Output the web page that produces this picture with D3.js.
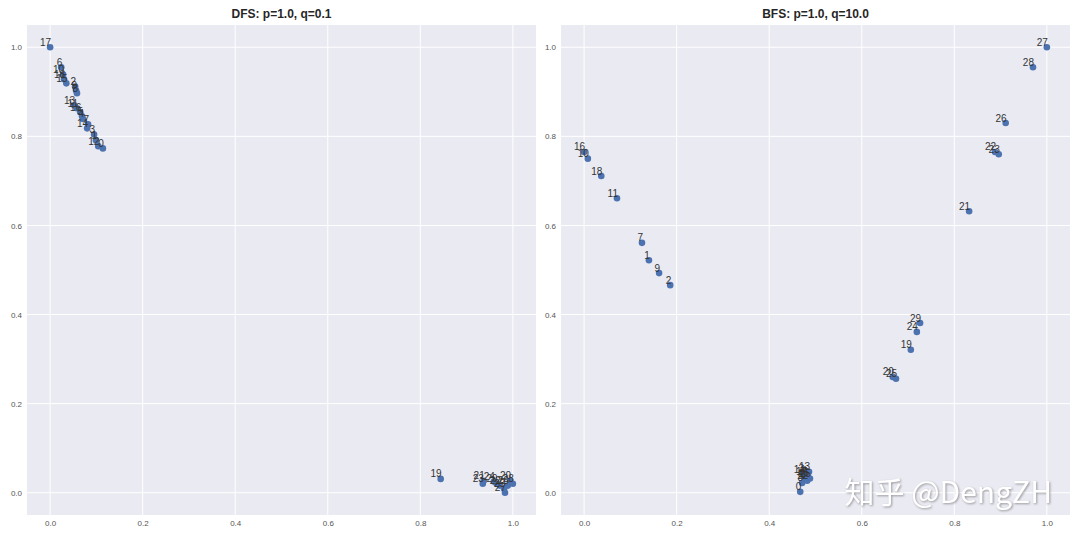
<!DOCTYPE html>
<html>
<head>
<meta charset="utf-8">
<script src="https://cdn.jsdelivr.net/npm/d3@7"></script>
<style>
  body { margin: 0; background: #fff; }
  svg { display: block; }
  text { font-family: "Liberation Sans", Arial, sans-serif; }
</style>
</head>
<body>
<div id="chart"></div>
<script>
var width = 1080;
var height = 539;

// node ids and embedding coords (x, y) for each run
var nodes = d3.range(30);
var dfsX = [0.114, 0.099, 0.054, 0.095, 0.071, 0.069, 0.024, 0.082, 0.058, 0.056,
            0.028, 0.058, 0.104, 0.052, 0.080, 0.035, 0.065, 0.000, 0.030, 0.844,
            0.994, 0.937, 0.972, 0.935, 0.959, 0.981, 0.989, 0.983, 1.000, 0.965];
var dfsY = [0.773, 0.791, 0.912, 0.804, 0.839, 0.845, 0.955, 0.827, 0.897, 0.903,
            0.939, 0.863, 0.778, 0.870, 0.818, 0.919, 0.854, 1.000, 0.928, 0.031,
            0.027, 0.027, 0.016, 0.020, 0.025, 0.009, 0.016, 0.000, 0.020, 0.020];
var bfsX = [0.467, 0.140, 0.186, 0.473, 0.479, 0.484, 0.477, 0.125, 0.471, 0.162,
            0.008, 0.071, 0.482, 0.486, 0.475, 0.488, 0.000, 0.480, 0.037, 0.706,
            0.667, 0.832, 0.888, 0.896, 0.719, 0.674, 0.911, 1.000, 0.970, 0.726];
var bfsY = [0.002, 0.522, 0.466, 0.043, 0.038, 0.034, 0.029, 0.561, 0.022, 0.493,
            0.750, 0.661, 0.027, 0.047, 0.040, 0.032, 0.765, 0.036, 0.711, 0.321,
            0.260, 0.632, 0.765, 0.760, 0.361, 0.256, 0.830, 1.000, 0.955, 0.381];
var titles = ["DFS: p=1.0, q=0.1", "BFS: p=1.0, q=10.0"];
var tickVals = [0, 0.2, 0.4, 0.6, 0.8, 1.0];

var svg = d3.select("#chart").append("svg")
  .attr("width", width).attr("height", height);

var panels = [
  { left: 27, right: 536, xs: dfsX, ys: dfsY, title: titles[0] },
  { left: 561, right: 1070, xs: bfsX, ys: bfsY, title: titles[1] }
];
var plotTop = 25, plotBottom = 515;

panels.forEach(function(p){
  var x = d3.scaleLinear().domain([-0.05, 1.05]).range([p.left, p.right]);
  var y = d3.scaleLinear().domain([-0.05, 1.05]).range([plotBottom, plotTop]);
  var g = svg.append("g");

  g.append("rect")
    .attr("x", p.left).attr("y", plotTop)
    .attr("width", p.right - p.left).attr("height", plotBottom - plotTop)
    .attr("fill", "#eaeaf2");

  // grid
  g.selectAll(".vgrid").data(tickVals).enter().append("line")
    .attr("x1", function(d){ return x(d); }).attr("x2", function(d){ return x(d); })
    .attr("y1", plotTop).attr("y2", plotBottom)
    .attr("stroke", "#fff").attr("stroke-width", 1);
  g.selectAll(".hgrid").data(tickVals).enter().append("line")
    .attr("y1", function(d){ return y(d); }).attr("y2", function(d){ return y(d); })
    .attr("x1", p.left).attr("x2", p.right)
    .attr("stroke", "#fff").attr("stroke-width", 1);

  // axes, no spines
  var xa = g.append("g").attr("transform", "translate(0," + plotBottom + ")")
    .call(d3.axisBottom(x).tickValues(tickVals).tickFormat(d3.format(".1f")).tickSize(0).tickPadding(5));
  var ya = g.append("g").attr("transform", "translate(" + p.left + ",0)")
    .call(d3.axisLeft(y).tickValues(tickVals).tickFormat(d3.format(".1f")).tickSize(0).tickPadding(5));
  [xa, ya].forEach(function(a){
    a.select(".domain").remove();
    a.selectAll("text").attr("fill", "#555").style("font-size", "8px")
      .style("font-family", "'Liberation Sans', Arial, sans-serif");
  });

  g.append("text")
    .attr("x", (p.left + p.right) / 2).attr("y", 18)
    .attr("text-anchor", "middle")
    .attr("font-weight", "bold").attr("font-size", "12px")
    .attr("fill", "#262626")
    .text(p.title);

  g.selectAll("circle").data(nodes).enter().append("circle")
    .attr("cx", function(d){ return x(p.xs[d]); })
    .attr("cy", function(d){ return y(p.ys[d]); })
    .attr("r", 3.3)
    .attr("fill", "#4c72b0");

  g.selectAll(".lbl").data(nodes).enter().append("text")
    .attr("x", function(d){ return x(p.xs[d]) + 1; })
    .attr("y", function(d){ return y(p.ys[d]) - 1.5; })
    .attr("text-anchor", "end")
    .attr("font-size", "10px")
    .attr("fill", "#333")
    .text(function(d){ return d; });
});

// watermark
svg.append("text")
  .attr("x", 1052).attr("y", 503)
  .attr("text-anchor", "end")
  .attr("font-size", "30px")
  .attr("fill", "#fff")
  .style("font-family", "'Noto Sans CJK SC', sans-serif")
  .style("filter", "drop-shadow(1px 1px 1px rgba(0,0,0,0.35))")
  .text("知乎 @DengZH");
</script>
</body>
</html>
